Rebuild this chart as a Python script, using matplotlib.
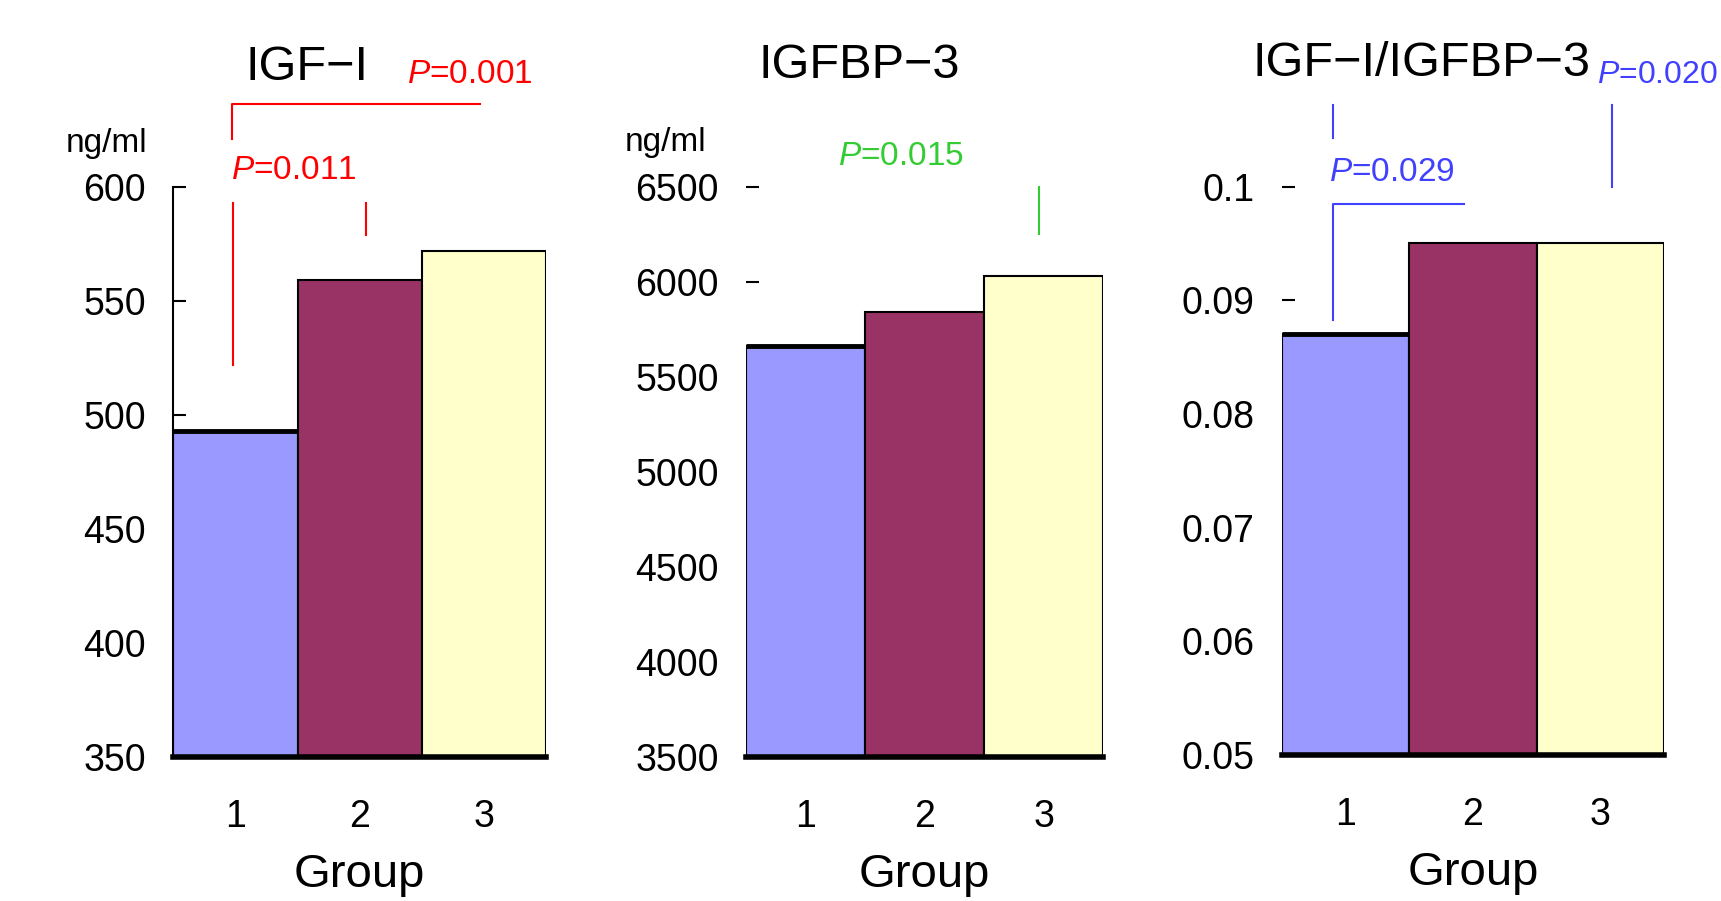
import matplotlib.pyplot as plt

plt.rcParams['font.family'] = ['Liberation Sans', 'DejaVu Sans']
plt.rcParams['mathtext.fontset'] = 'custom'
plt.rcParams['mathtext.it'] = 'Liberation Sans:italic'
plt.rcParams['mathtext.rm'] = 'Liberation Sans'

# group means for each marker
groups = [1, 2, 3]
igf1 = [493, 559, 572]
igfbp3 = [5660, 5840, 6030]
ratio = [0.087, 0.095, 0.095]

bar_colors = ['#9999FF', '#993366', '#FFFFCC']

igf1_ticks = [350, 400, 450, 500, 550, 600]
igfbp3_ticks = [3500, 4000, 4500, 5000, 5500, 6000, 6500]
ratio_ticks = [0.05, 0.06, 0.07, 0.08, 0.09, 0.1]
ratio_ticklabels = ['0.05', '0.06', '0.07', '0.08', '0.09', '0.1']

red = '#FF0000'
green = '#33CC33'
blue = '#4040FF'

fig = plt.figure(figsize=(17.21, 9.01), dpi=100)

# axes positions (figure fractions)
ax1 = fig.add_axes([0.1008, 0.1594, 0.2162, 0.6335])
ax2 = fig.add_axes([0.4337, 0.1594, 0.2072, 0.6335])
ax3 = fig.add_axes([0.7449, 0.1620, 0.2220, 0.6309])


def draw_panel(ax, values, ylim, ticks, ticklabels=None, left_spine=False):
    ax.bar(groups, [v - ylim[0] for v in values], bottom=ylim[0], width=1.0,
           color=bar_colors, edgecolor='black', linewidth=1.5, zorder=2)
    ax.hlines(values[0], 0.5, 1.5, color='black', linewidth=3.5, zorder=3)
    ax.set_xlim(0.5, 3.5)
    ax.set_ylim(*ylim)
    ax.set_yticks(ticks)
    if ticklabels is not None:
        ax.set_yticklabels(ticklabels)
    ax.set_xticks(groups)
    for s in ['top', 'right']:
        ax.spines[s].set_visible(False)
    ax.spines['left'].set_visible(left_spine)
    ax.spines['left'].set_linewidth(1.5)
    ax.spines['bottom'].set_linewidth(4)
    ax.spines['bottom'].set_zorder(4)
    ax.tick_params(axis='y', direction='in', length=9, width=1.5,
                   labelsize=27, pad=20)
    ax.tick_params(axis='x', length=0, labelsize=27, pad=30)
    ax.set_xlabel('Group', fontsize=34, labelpad=13)


draw_panel(ax1, igf1, (350, 600), igf1_ticks, left_spine=True)
draw_panel(ax2, igfbp3, (3500, 6500), igfbp3_ticks)
draw_panel(ax3, ratio, (0.05, 0.1), ratio_ticks, ratio_ticklabels)

# titles and units
ax1.text(1.58, 652, 'IGF\u2212I', fontsize=35, ha='center', va='center', clip_on=False)
ax2.text(1.45, 7135, 'IGFBP\u22123', fontsize=35, ha='center', va='center', clip_on=False)
ax3.text(1.595, 0.1108, 'IGF\u2212I/IGFBP\u22123', fontsize=35, ha='center',
         va='center', clip_on=False)
ax1.text(-0.04, 619, 'ng/ml', fontsize=24, ha='center', va='center', clip_on=False)
ax2.text(-0.18, 6731, 'ng/ml', fontsize=24, ha='center', va='center', clip_on=False)

# significance marks, IGF-I
ax1.plot([0.97, 0.97, 2.97], [621, 636, 636], color=red, lw=1.5, clip_on=False)
ax1.text(2.38, 649, '$P$=0.001', color=red, fontsize=24, ha='left', va='center',
         clip_on=False)
ax1.text(0.96, 607, '$P$=0.011', color=red, fontsize=24, ha='left', va='center',
         clip_on=False)
ax1.plot([0.98, 0.98], [593, 522], color=red, lw=1.5, clip_on=False)
ax1.plot([2.05, 2.05], [593, 579], color=red, lw=1.5, clip_on=False)

# significance marks, IGFBP-3
ax2.text(1.27, 6656, '$P$=0.015', color=green, fontsize=24, ha='left', va='center',
         clip_on=False)
ax2.plot([2.96, 2.96], [6500, 6252], color=green, lw=1.5, clip_on=False)

# significance marks, ratio
ax3.text(2.97, 0.1098, '$P$=0.020', color=blue, fontsize=23, ha='left', va='center',
         clip_on=False)
ax3.plot([3.09, 3.09], [0.1072, 0.1], color=blue, lw=1.5, clip_on=False)
ax3.plot([0.9, 0.9], [0.1072, 0.1043], color=blue, lw=1.5, clip_on=False)
ax3.text(0.87, 0.1012, '$P$=0.029', color=blue, fontsize=24, ha='left', va='center',
         clip_on=False)
ax3.plot([0.9, 0.9, 1.93], [0.0883, 0.09846, 0.09846], color=blue, lw=1.5,
         clip_on=False)

fig.savefig('out.png', dpi=100)
